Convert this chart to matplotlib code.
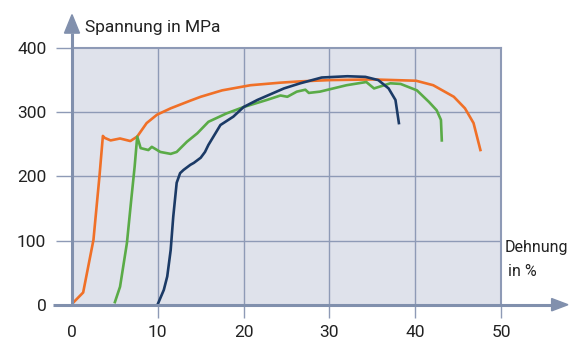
import matplotlib
matplotlib.use("Agg")
import matplotlib.pyplot as plt
from matplotlib.patches import Polygon

plt.rcParams['font.family'] = ['Roboto', 'DejaVu Sans']

# Dehnung in %, Spannung in MPa
orange_x = [0.2, 1.3, 2.5, 3.2, 3.6, 3.8, 4.5, 5.6, 6.8, 7.6, 8.7, 9.9, 11.5, 13.8, 15.0,
            17.5, 20.8, 24.3, 26.6, 30.1, 35.0, 40.1, 42.1, 44.5, 45.8, 46.8, 47.6]
orange_y = [4, 19, 101, 200, 263, 260, 256, 259, 255, 262, 283, 296, 306, 318, 324,
            334, 342, 346, 348, 350, 351, 349, 342, 324, 306, 283, 241]

green_x = [5.0, 5.6, 6.4, 6.9, 7.3, 7.6, 8.0, 8.9, 9.3, 10.3, 11.5, 12.2, 13.4, 14.6, 15.9,
           18.0, 20.0, 22.7, 24.3, 25.1, 26.2, 27.2, 27.6, 28.9, 32.0, 34.3, 35.2, 37.1,
           38.3, 40.2, 41.6, 42.5, 43.0, 43.1]
green_y = [4, 28, 96, 163, 215, 262, 244, 241, 246, 238, 235, 238, 254, 267, 285,
           298, 308, 319, 326, 324, 332, 335, 330, 332, 342, 347, 337, 345,
           344, 334, 316, 303, 288, 256]

navy_x = [10.0, 10.7, 11.1, 11.5, 11.8, 12.2, 12.6, 13.0, 13.8, 14.2, 15.0, 15.5, 15.9,
          17.3, 18.8, 20.0, 21.6, 24.7, 26.6, 29.1, 32.1, 34.2, 35.7, 36.9, 37.7, 38.1]
navy_y = [1, 23, 44, 85, 137, 190, 205, 210, 218, 221, 229, 238, 249,
          280, 293, 308, 319, 337, 345, 354, 356, 355, 350, 337, 319, 283]

x_ticks = [0, 10, 20, 30, 40, 50]
y_ticks = [0, 100, 200, 300, 400]

axis_col = '#8190ad'
grid_col = '#8e9ab6'
bg_col = '#dfe2eb'
txt_col = '#222222'

fig = plt.figure(figsize=(5.72, 3.5), dpi=100)
ax = fig.add_axes([72/572, (350-304.7)/350, 429/572, 256.7/350])
ax.set_facecolor(bg_col)
ax.set_xlim(0, 50)
ax.set_ylim(0, 400)

for v in x_ticks[1:-1]:
    ax.axvline(v, color=grid_col, lw=1.0, zorder=1)
for v in y_ticks[1:-1]:
    ax.axhline(v, color=grid_col, lw=1.0, zorder=1)

for s in ['left', 'bottom']:
    ax.spines[s].set_visible(False)
for s in ['top', 'right']:
    ax.spines[s].set_color(grid_col)
    ax.spines[s].set_linewidth(1.5)

ax.plot(orange_x, orange_y, color='#f07027', lw=1.9, zorder=3)
ax.plot(green_x, green_y, color='#5aab47', lw=1.9, zorder=3)
ax.plot(navy_x, navy_y, color='#1b3a66', lw=1.9, zorder=4)

ax.set_xticks(x_ticks)
ax.set_yticks(y_ticks)
ax.tick_params(axis='x', direction='out', length=9.5, width=1.0, color=grid_col,
               pad=5, labelsize=12.5, labelcolor=txt_col)
ax.tick_params(axis='y', direction='out', length=11.5, width=1.0, color=grid_col,
               pad=7, labelsize=12.5, labelcolor=txt_col)
ax.xaxis.get_major_ticks()[0].tick1line.set_visible(False)

# Achsen mit Pfeilen
ax.plot([-0.045, 1.12], [0, 0], color=axis_col, lw=2.2, transform=ax.transAxes,
        clip_on=False, zorder=5, solid_capstyle='butt')
ax.plot([0, 0], [0, 1.06], color=axis_col, lw=2.2, transform=ax.transAxes,
        clip_on=False, zorder=5, solid_capstyle='butt')
ax.add_patch(Polygon([[1.118, 0.024], [1.156, 0], [1.118, -0.024]], closed=True,
                     transform=ax.transAxes, color=axis_col, clip_on=False, zorder=5))
ax.add_patch(Polygon([[-0.0175, 1.058], [0, 1.13], [0.0175, 1.058]], closed=True,
                     transform=ax.transAxes, color=axis_col, clip_on=False, zorder=5))

fig.text(85/572, 1 - 32/350, 'Spannung in MPa', fontsize=12.5, color=txt_col,
         ha='left', va='baseline')
fig.text(505/572, 1 - 252/350, 'Dehnung', fontsize=11.5, color=txt_col,
         ha='left', va='baseline')
fig.text(508/572, 1 - 276/350, 'in %', fontsize=11.5, color=txt_col,
         ha='left', va='baseline')

fig.savefig('out.png', dpi=100)
